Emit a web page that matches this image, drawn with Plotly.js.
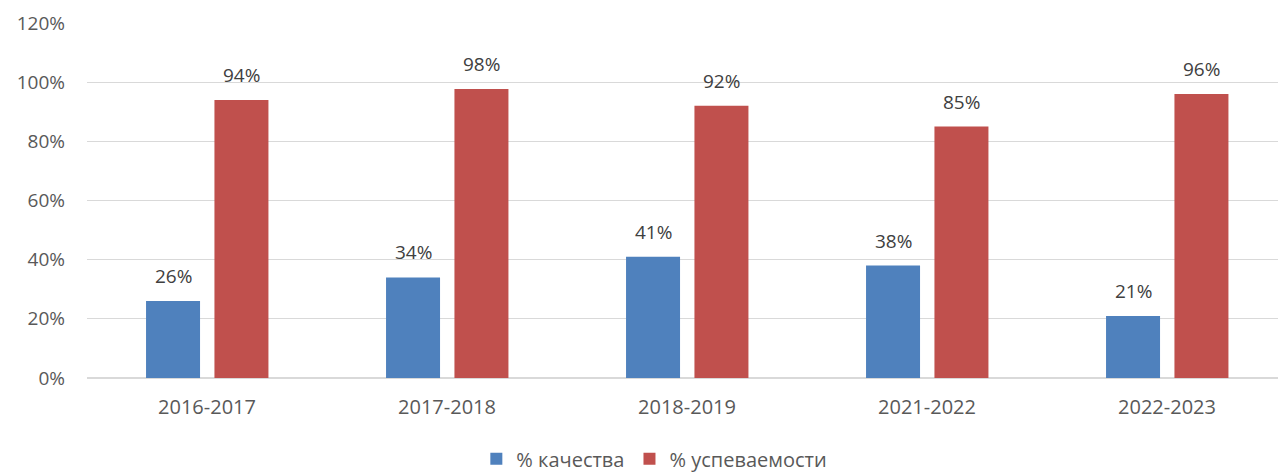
<!DOCTYPE html>
<html>
<head>
<meta charset="utf-8">
<script src="https://cdn.plot.ly/plotly-3.0.1.min.js"></script>
<style>html,body{margin:0;padding:0;background:#fff;}#chart{width:1278px;height:472px;}</style>
</head>
<body>
<div id="chart"></div>
<script>
var categories = ["2016-2017", "2017-2018", "2018-2019", "2021-2022", "2022-2023"];
var quality = [26, 34, 41, 38, 21];
var success = [94, 97.7, 92, 85, 96];
var seriesNames = ["% качества", "% успеваемости"];
var yTickVals = [0, 20, 40, 60, 80, 100, 120];
var yTickText = ["0%", "20%", "40%", "60%", "80%", "100%", "120%"];

var FONT = "Open Sans, Liberation Sans, Arial, sans-serif";
var FS = 20;
var blue = "#4f81bd", red = "#c0504d";

var traces = [
  {type: "bar", x: categories, y: quality, name: seriesNames[0], marker: {color: blue},
   width: 0.225, offset: -0.254, hoverinfo: "skip"},
  {type: "bar", x: categories, y: success, name: seriesNames[1], marker: {color: red},
   width: 0.225, offset: 0.031, hoverinfo: "skip"}
];

var annotations = [];
categories.forEach(function(c, i) {
  annotations.push({x: c, y: quality[i], text: Math.round(quality[i]) + "%", showarrow: false,
    xref: "x", yref: "y", xshift: -34, yshift: 10, yanchor: "bottom",
    font: {family: FONT, size: 19, color: "#404040"}});
  annotations.push({x: c, y: success[i], text: Math.round(success[i]) + "%", showarrow: false,
    xref: "x", yref: "y", xshift: 34, yshift: 10, yanchor: "bottom",
    font: {family: FONT, size: 19, color: "#404040"}});
});

var layout = {
  width: 1278, height: 472,
  margin: {l: 87, r: 0, t: 23, b: 94},
  paper_bgcolor: "#fff", plot_bgcolor: "#fff",
  font: {family: FONT, size: FS, color: "#595959"},
  barmode: "group",
  xaxis: {type: "category", range: [-0.5, -0.5 + 1191/240], showgrid: false, zeroline: false,
    showline: false, ticks: "", ticklabelstandoff: 15, automargin: false,
    tickfont: {family: FONT, size: FS, color: "#595959"}, fixedrange: true},
  yaxis: {range: [0, 120], tickvals: yTickVals, ticktext: yTickText, showgrid: true,
    gridcolor: "#d9d9d9", gridwidth: 1.3, zeroline: true, zerolinecolor: "#d9d9d9", zerolinewidth: 1.3,
    showline: false, ticks: "", ticklabelstandoff: 21, automargin: false,
    tickfont: {family: FONT, size: 19, color: "#595959"}, fixedrange: true},
  showlegend: true,
  legend: {orientation: "h", xref: "container", yref: "container", x: 0.512, xanchor: "center",
    y: 0.028, yanchor: "middle",
    font: {family: FONT, size: FS, color: "#595959"}, itemwidth: 30, traceorder: "normal"},
  annotations: annotations
};

Plotly.newPlot("chart", traces, layout, {staticPlot: true, displayModeBar: false});
</script>
</body>
</html>
